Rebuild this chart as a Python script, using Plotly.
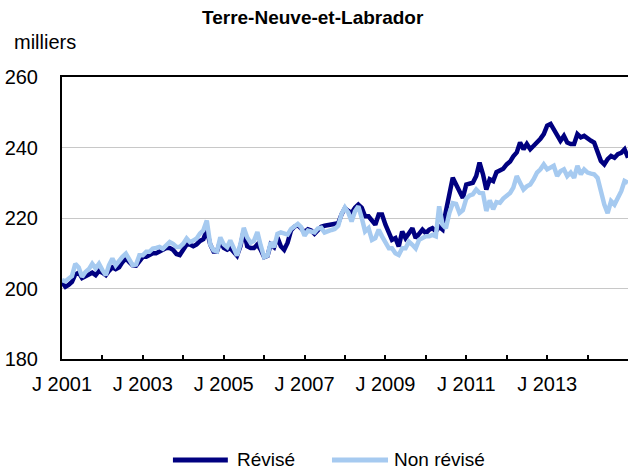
import plotly.graph_objects as go
import pandas as pd

title = "Terre-Neuve-et-Labrador"
y_label = "milliers"
series_names = ["Révisé", "Non révisé"]
start_month = "2001-01-01"

revise = [
    201.8, 200.5, 201.0, 201.9, 204.0, 204.5, 203.0, 203.5, 204.0, 204.5, 203.8, 205.0,
    204.5, 203.8, 205.0, 206.0, 205.5, 206.0, 207.5, 208.5, 207.5, 206.6, 206.5, 208.0,
    209.0, 209.0, 209.5, 210.0, 210.0, 210.5, 211.0, 211.5, 211.5, 211.0, 209.8, 209.5,
    211.0, 212.5, 212.5, 212.0, 212.5, 213.5, 214.0, 216.5, 212.5, 210.5, 210.5, 213.5,
    211.5, 211.0, 211.5, 210.5, 209.3, 212.0, 216.5, 212.0, 211.5, 211.5, 212.5, 211.0,
    208.9, 209.3, 212.5, 211.7, 214.5, 212.0, 211.0, 213.0, 216.5, 217.5, 218.0, 217.0,
    216.0, 216.8, 216.5, 215.5, 216.5, 217.5, 217.8, 218.0, 218.0, 218.3, 218.5, 221.0,
    222.8, 222.0, 221.4, 222.9, 223.8, 222.9, 220.5, 220.5, 219.0, 218.1, 221.0, 221.0,
    218.1, 215.7, 213.8, 214.3, 211.9, 216.2, 214.3, 215.7, 217.1, 214.3, 215.7, 216.7,
    215.7, 216.7, 217.1, 216.2, 217.5, 216.7, 221.9, 226.7, 231.4, 229.5, 227.6, 225.7,
    229.5, 229.8, 230.0, 231.9, 235.7, 232.4, 228.1, 231.0, 230.5, 233.0, 233.5, 234.0,
    235.2, 236.0, 237.5, 238.6, 241.4, 239.5, 241.0, 239.5, 240.5, 241.4, 242.5, 243.8,
    246.2, 246.7, 245.2, 243.8, 241.9, 243.3, 241.4, 241.0, 241.0, 243.8, 242.9, 243.3,
    242.4, 241.9, 241.4, 239.0, 236.2, 235.2, 236.7, 237.6, 237.1, 238.1, 238.5, 239.5,
    237.1,
]

non_revise = [
    202.4, 202.0, 202.8, 203.5, 207.0, 206.0, 203.3, 204.7, 205.5, 207.0, 205.7, 207.0,
    205.2, 203.8, 206.6, 208.5, 206.6, 208.0, 209.0, 209.9, 208.0, 206.6, 206.8, 209.4,
    209.4, 210.4, 210.4, 211.3, 211.5, 211.8, 211.3, 212.3, 213.2, 212.7, 211.8, 211.8,
    212.7, 214.2, 213.2, 213.6, 214.2, 215.6, 216.5, 219.3, 212.5, 210.8, 210.5, 214.5,
    212.5, 211.7, 213.6, 211.5, 209.3, 212.6, 217.2, 214.5, 213.0, 213.5, 216.0, 212.2,
    208.9, 209.3, 213.1, 211.7, 215.5, 215.9, 215.7, 215.3, 216.9, 217.5, 218.3, 217.4,
    215.0, 216.4, 216.2, 215.9, 217.0, 217.2, 215.9, 216.4, 216.6, 216.9, 217.8, 221.1,
    223.0, 221.5, 219.0, 221.9, 223.3, 220.0, 216.2, 217.1, 213.8, 214.3, 216.7, 214.8,
    212.9, 211.4, 211.4, 210.0, 209.5, 211.4, 211.4, 213.3, 212.4, 211.4, 213.8, 214.3,
    214.8, 214.8, 215.2, 214.8, 223.3, 218.1, 217.1, 221.4, 224.2, 224.0, 221.4, 222.2,
    225.5, 226.4, 226.7, 228.1, 227.1, 227.0, 222.0, 225.0, 222.5, 224.5, 224.3, 225.5,
    226.2, 227.1, 228.6, 231.9, 230.0, 228.1, 229.0, 229.5, 231.0, 232.9, 233.8, 235.2,
    233.8, 234.3, 234.8, 231.9, 233.3, 233.8, 231.9, 232.9, 231.4, 234.8, 232.4, 233.8,
    232.9, 232.6, 232.4, 231.4, 227.6, 223.8, 221.4, 224.8, 223.8, 225.7, 227.6, 230.5,
    230.0,
]

tick_dates = ["2001-01-01", "2003-01-01", "2005-01-01", "2007-01-01",
              "2009-01-01", "2011-01-01", "2013-01-01"]
tick_labels = ["J 2001", "J 2003", "J 2005", "J 2007", "J 2009", "J 2011", "J 2013"]
y_ticks = [180, 200, 220, 240, 260]

dates = pd.date_range(start_month, periods=len(revise), freq="MS")

dark = "#000080"
light = "#A6CAF0"
font_family = "Liberation Sans, Arial, sans-serif"

fig = go.Figure()
fig.add_trace(go.Scatter(x=dates, y=revise, mode="lines", name=series_names[0],
                         line=dict(color=dark, width=4.5), showlegend=False))
fig.add_trace(go.Scatter(x=dates, y=non_revise, mode="lines", name=series_names[1],
                         line=dict(color=light, width=4.5), showlegend=False))

fig.update_layout(
    width=628, height=473,
    margin=dict(l=62, r=0, t=77, b=114),
    plot_bgcolor="white", paper_bgcolor="white",
    font=dict(family=font_family, size=20, color="black"),
    xaxis=dict(
        range=["2001-01-01", "2015-01-01"],
        tickvals=tick_dates, ticktext=tick_labels,
        ticks="inside", ticklen=4, tickwidth=1.5, tickcolor="black",
        minor=dict(dtick="M12", tick0="2001-01-01", ticks="inside", ticklen=4,
                   tickwidth=1.5, tickcolor="black", showgrid=False),
        showline=True, linecolor="black", linewidth=2, mirror=True,
        showgrid=False, zeroline=False,
        tickfont=dict(size=20), ticklabelstandoff=6,
    ),
    yaxis=dict(
        range=[180, 260], tickvals=y_ticks,
        showline=True, linecolor="black", linewidth=2, mirror=False,
        showgrid=True, gridcolor="#c8c8c8", gridwidth=1,
        ticks="", zeroline=False,
        tickfont=dict(size=20), ticklabelstandoff=18,
    ),
)

fig.add_annotation(text="<b>%s</b>" % title, xref="paper", yref="paper",
                   x=0.443, y=1.211, xanchor="center", yanchor="middle",
                   showarrow=False, font=dict(size=19, family=font_family))
fig.add_annotation(text=y_label, xref="paper", yref="paper",
                   x=-0.088, y=1.123, xanchor="left", yanchor="middle",
                   showarrow=False, font=dict(size=20, family=font_family))

# manual legend
leg_y = -0.358
legend_items = [(series_names[0], dark, 0.196, 0.293, 0.305),
                (series_names[1], light, 0.477, 0.576, 0.583)]
for name, col, x0, x1, xt in legend_items:
    fig.add_shape(type="line", xref="paper", yref="paper", x0=x0, x1=x1,
                  y0=leg_y, y1=leg_y, line=dict(color=col, width=5))
    fig.add_annotation(text=name, xref="paper", yref="paper", x=xt, y=leg_y,
                       xanchor="left", yanchor="middle", showarrow=False,
                       font=dict(size=19, family=font_family))

fig.write_html(
    "out.html",
    config={"displayModeBar": False},
    post_script="document.body.style.margin='0';document.body.style.padding='0';"
                "document.body.style.overflow='hidden';"
                "document.documentElement.style.overflow='hidden';",
)
